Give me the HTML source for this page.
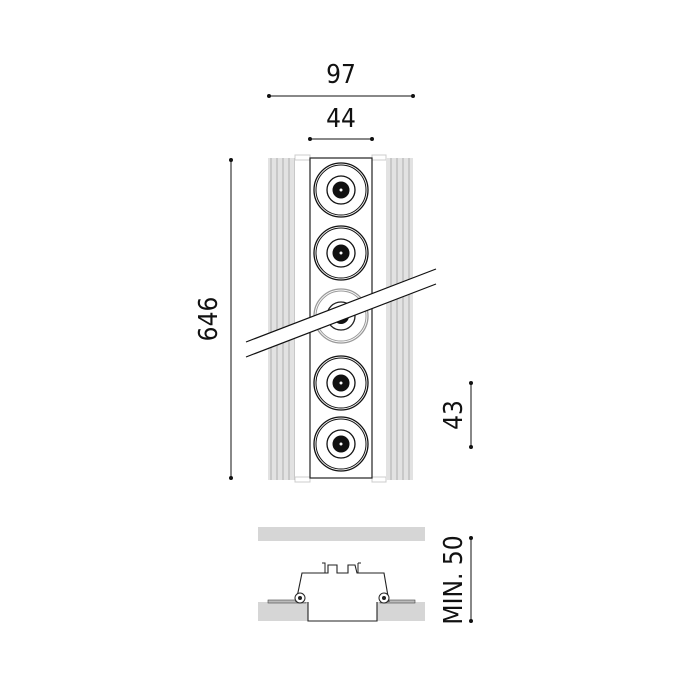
<!DOCTYPE html>
<html><head><style>
html,body{margin:0;padding:0;background:#fff;}
svg{display:block;}
text{font-family:"DejaVu Sans Condensed","Liberation Sans",sans-serif;fill:#111;}
</style></head><body>
<svg width="700" height="700" viewBox="0 0 700 700" xmlns="http://www.w3.org/2000/svg">
<defs>
<pattern id="fins" width="6" height="10" patternUnits="userSpaceOnUse">
<rect width="6" height="10" fill="#e2e2e2"/>
<rect x="0" width="2" height="10" fill="#c8c8c8"/>
</pattern>
</defs>
<text x="341" y="83" font-size="26" text-anchor="middle">97</text>
<line x1="269" y1="96" x2="413" y2="96" stroke="#111" stroke-width="1"/>
<circle cx="269" cy="96" r="2" fill="#111"/><circle cx="413" cy="96" r="2" fill="#111"/>
<text x="341" y="127" font-size="26" text-anchor="middle">44</text>
<line x1="310" y1="139" x2="372" y2="139" stroke="#111" stroke-width="1"/>
<circle cx="310" cy="139" r="2" fill="#111"/><circle cx="372" cy="139" r="2" fill="#111"/>
<line x1="231" y1="160" x2="231" y2="478" stroke="#111" stroke-width="1"/>
<circle cx="231" cy="160" r="2" fill="#111"/><circle cx="231" cy="478" r="2" fill="#111"/>
<text transform="translate(217,319) rotate(-90)" font-size="26" text-anchor="middle">646</text>
<line x1="471" y1="383" x2="471" y2="447" stroke="#111" stroke-width="1"/>
<circle cx="471" cy="383" r="2" fill="#111"/><circle cx="471" cy="447" r="2" fill="#111"/>
<text transform="translate(462,415) rotate(-90)" font-size="26" text-anchor="middle">43</text>
<line x1="471" y1="538" x2="471" y2="621" stroke="#111" stroke-width="1"/>
<circle cx="471" cy="538" r="2" fill="#111"/><circle cx="471" cy="621" r="2" fill="#111"/>
<text transform="translate(462,580) rotate(-90)" font-size="26" text-anchor="middle">MIN. 50</text>
<g fill="#fff" stroke="#ccc" stroke-width="1">
<rect x="295" y="155" width="15" height="5"/><rect x="372" y="155" width="14" height="5"/>
<rect x="295" y="477" width="15" height="5"/><rect x="372" y="477" width="14" height="5"/>
</g>
<rect x="268" y="158" width="27" height="322" fill="url(#fins)"/>
<rect x="386" y="158" width="27" height="322" fill="url(#fins)"/>
<rect x="310" y="158" width="62" height="320" fill="#fff" stroke="#222" stroke-width="1.2"/>
<g stroke="#111" fill="none">
<g id="l"><circle cx="341" cy="190" r="27" stroke-width="1.3"/><circle cx="341" cy="190" r="25" stroke-width="1"/><circle cx="341" cy="190" r="14" stroke-width="1.3"/><circle cx="341" cy="190" r="8" fill="#111"/><circle cx="341" cy="190" r="1.5" fill="#fff" stroke="none"/></g>
<use href="#l" y="63"/>
<use href="#l" y="193"/>
<use href="#l" y="254"/>
</g>
<g stroke="#999" fill="none">
<circle cx="341" cy="316" r="27" stroke-width="1.3"/><circle cx="341" cy="316" r="25"/><circle cx="341" cy="316" r="14" stroke="#222" stroke-width="1.3"/><circle cx="341" cy="316" r="8" fill="#111" stroke="none"/>
</g>
<polygon points="246,342 436,269 436,284 246,357" fill="#fff"/>
<line x1="246" y1="342" x2="436" y2="269" stroke="#111" stroke-width="1.2"/>
<line x1="246" y1="357" x2="436" y2="284" stroke="#111" stroke-width="1.2"/>
<rect x="258" y="527" width="167" height="14" fill="#d6d6d6"/>
<rect x="258" y="602" width="50" height="19" fill="#d6d6d6"/>
<rect x="377" y="602" width="48" height="19" fill="#d6d6d6"/>
<rect x="268" y="600" width="38" height="3" fill="#bbb" stroke="#444" stroke-width="0.6"/>
<rect x="380" y="600" width="35" height="3" fill="#bbb" stroke="#444" stroke-width="0.6"/>
<polyline points="308,601 308,621 377,621 377,601" fill="#fff" stroke="#222" stroke-width="1.1"/>
<polyline points="296,602 302,573 328,573 328,565 337,565 337,573 348,573 348,565 355,565 357,573 384,573 389,602" fill="#fff" stroke="#222" stroke-width="1.1"/>
<circle cx="300" cy="598" r="5" fill="#fff" stroke="#222"/><circle cx="300" cy="598" r="2" fill="#222"/>
<circle cx="384" cy="598" r="5" fill="#fff" stroke="#222"/><circle cx="384" cy="598" r="2" fill="#222"/>
<path d="M322 563 h3 v10 M358 563 h3 M358 563 v10" stroke="#222" fill="none"/>
</svg>
</body></html>
